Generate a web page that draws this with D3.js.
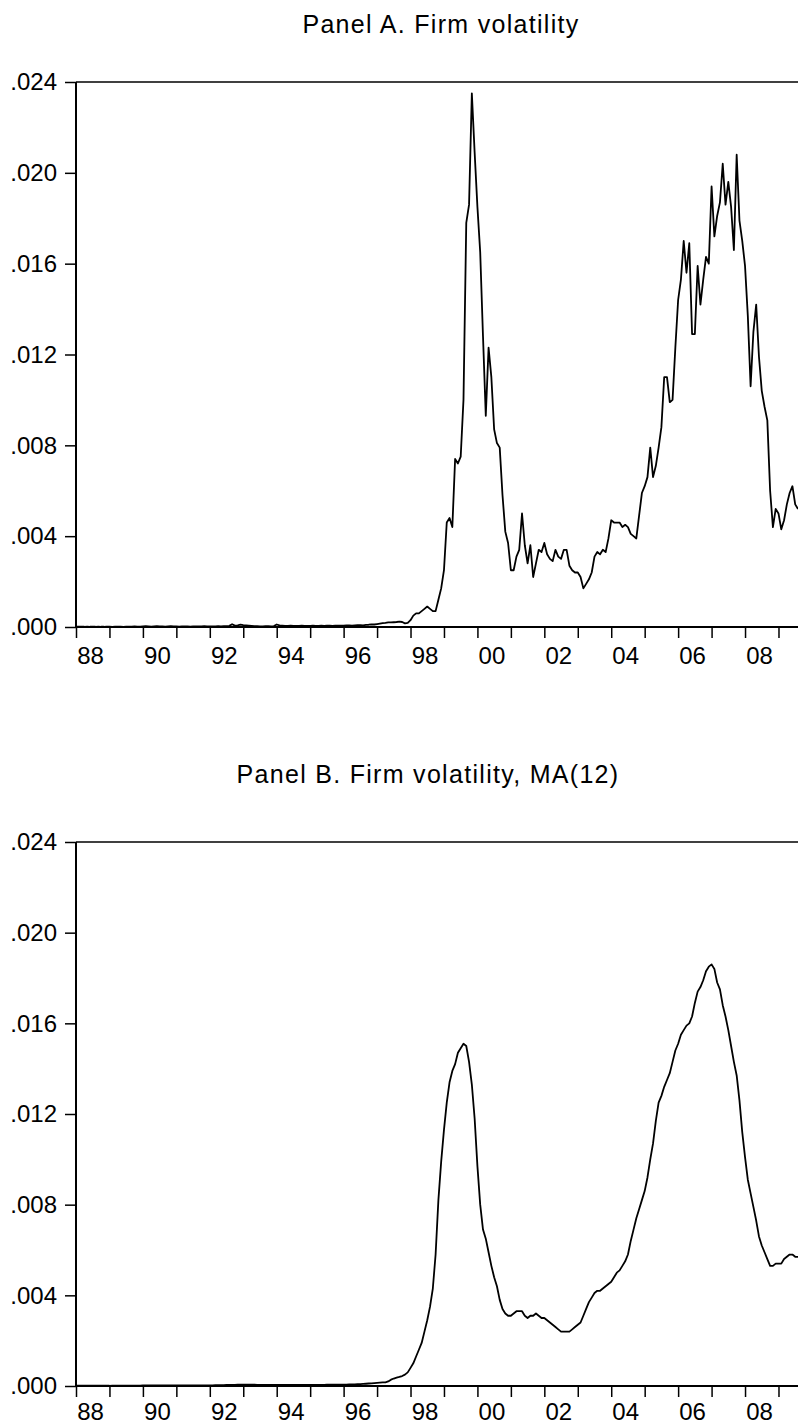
<!DOCTYPE html>
<html>
<head>
<meta charset="utf-8">
<script src="https://cdn.jsdelivr.net/npm/d3@7"></script>
<style>
  html, body { margin: 0; padding: 0; background: #fff; }
  svg { display: block; }
  text { font-family: "Liberation Sans", Arial, sans-serif; fill: #000; }
</style>
</head>
<body>
<svg id="chart" width="798" height="1426"></svg>
<script>
// ---------------- DATA (monthly, starting 1988:01) ----------------
const startYear = 1988;
const yearTicks = d3.range(1988, 2010);            // tick at start of each year
const yearLabels = ["88","90","92","94","96","98","00","02","04","06","08"];
const yTickValues = [0, 0.004, 0.008, 0.012, 0.016, 0.020, 0.024];

const titleA = "Panel A. Firm volatility";
const titleB = "Panel B. Firm volatility, MA(12)";

// Panel A: firm volatility, monthly
const volA_1988_1992 = [
  .00001,.00001,.00001,.00001,.00002,.00001,.00001,.00001,.00002,.00001,.00001,.00002,
  .00002,.00001,.00002,.00002,.00002,.00001,.00002,.00002,.00002,.00003,.00002,.00002,
  .00003,.00004,.00003,.00002,.00003,.00004,.00003,.00003,.00002,.00003,.00004,.00003,
  .00003,.00002,.00003,.00003,.00003,.00002,.00003,.00003,.00003,.00003,.00004,.00003,
  .00003,.00003,.00003,.00004,.00003,.00004,.00004,.00005,.00012,.00006,.00007,.00010
];
const volA_1993_1997 = [
  .00008,.00007,.00006,.00005,.00004,.00004,.00003,.00003,.00004,.00004,.00003,.00004,
  .00011,.00007,.00006,.00005,.00005,.00006,.00005,.00005,.00005,.00006,.00005,.00005,
  .00005,.00006,.00005,.00005,.00006,.00005,.00006,.00006,.00005,.00006,.00006,.00006,
  .00006,.00007,.00007,.00006,.00007,.00008,.00008,.00007,.00009,.00010,.00012,.00011,
  .00013,.00015,.00017,.00018,.00020,.00020,.00021,.00022,.00024,.00022,.00016,.00018
];
const volA_1998_2002 = [
  .00030,.00050,.00060,.00060,.00070,.00080,.00090,.00080,.00070,.00070,.00120,.00170,
  .00250,.00460,.00480,.00440,.00740,.00720,.00750,.01000,.01780,.01860,.02350,.02090,
  .01850,.01650,.01280,.00930,.01230,.01100,.00870,.00810,.00790,.00580,.00420,.00370,
  .00250,.00250,.00310,.00340,.00500,.00360,.00280,.00360,.00220,.00280,.00340,.00330,
  .00370,.00320,.00300,.00290,.00340,.00310,.00300,.00340,.00340,.00270,.00250,.00240
];
const volA_2003_2009 = [
  .00240,.00220,.00170,.00190,.00210,.00240,.00310,.00330,.00320,.00340,.00330,.00390,
  .00470,.00460,.00460,.00460,.00440,.00450,.00440,.00410,.00400,.00390,.00490,.00590,
  .00620,.00660,.00790,.00660,.00710,.00790,.00880,.01100,.01100,.00990,.01000,.01230,
  .01440,.01530,.01700,.01560,.01690,.01290,.01290,.01590,.01420,.01530,.01630,.01600,
  .01940,.01720,.01810,.01870,.02040,.01860,.01960,.01850,.01660,.02080,.01790,.01700,
  .01590,.01370,.01060,.01300,.01420,.01190,.01040,.00970,.00910,.00600,.00440,.00520,
  .00500,.00430,.00470,.00540,.00590,.00620,.00540,.00520
];

// Panel B: firm volatility, 12-month moving average, monthly
const volB_1988_1992 = [
  .00001,.00001,.00001,.00001,.00001,.00001,.00001,.00001,.00001,.00001,.00001,.00001,
  .00001,.00002,.00002,.00002,.00002,.00002,.00002,.00002,.00002,.00002,.00002,.00002,
  .00003,.00003,.00003,.00003,.00003,.00003,.00003,.00003,.00003,.00003,.00003,.00003,
  .00003,.00003,.00003,.00003,.00003,.00003,.00003,.00003,.00003,.00003,.00003,.00003,
  .00003,.00003,.00004,.00004,.00004,.00004,.00005,.00005,.00005,.00005,.00006,.00006
];
const volB_1993_1997 = [
  .00006,.00006,.00006,.00006,.00006,.00005,.00005,.00005,.00005,.00005,.00005,.00005,
  .00005,.00005,.00005,.00005,.00005,.00005,.00005,.00005,.00005,.00005,.00005,.00005,
  .00005,.00005,.00005,.00005,.00005,.00005,.00006,.00006,.00006,.00006,.00006,.00006,
  .00006,.00006,.00007,.00007,.00007,.00008,.00008,.00009,.00010,.00011,.00012,.00013,
  .00014,.00015,.00016,.00016,.00020,.00028,.00033,.00037,.00040,.00044,.00050,.00060
];
const volB_1998_2002 = [
  .00080,.00100,.00130,.00160,.00190,.00240,.00290,.00350,.00430,.00580,.00820,.00990,
  .01130,.01250,.01340,.01390,.01420,.01470,.01490,.01510,.01500,.01430,.01330,.01180,
  .00970,.00800,.00690,.00650,.00590,.00530,.00480,.00440,.00380,.00340,.00320,.00310,
  .00310,.00320,.00330,.00330,.00330,.00310,.00300,.00310,.00310,.00320,.00310,.00300,
  .00300,.00290,.00280,.00270,.00260,.00250,.00240,.00240,.00240,.00240,.00250,.00260
];
const volB_2003_2009 = [
  .00270,.00280,.00310,.00340,.00370,.00390,.00410,.00420,.00420,.00430,.00440,.00450,
  .00460,.00480,.00500,.00510,.00530,.00550,.00580,.00640,.00690,.00740,.00780,.00820,
  .00860,.00920,.01000,.01070,.01170,.01250,.01280,.01320,.01350,.01380,.01430,.01480,
  .01510,.01550,.01570,.01590,.01600,.01630,.01690,.01740,.01760,.01790,.01830,.01850,
  .01860,.01840,.01780,.01750,.01680,.01630,.01570,.01500,.01430,.01370,.01260,.01120,
  .01010,.00910,.00850,.00790,.00730,.00660,.00620,.00590,.00560,.00530,.00530,.00540,
  .00540,.00540,.00560,.00570,.00580,.00580,.00570,.00570
];

const seriesA = [].concat(volA_1988_1992, volA_1993_1997, volA_1998_2002, volA_2003_2009);
const seriesB = [].concat(volB_1988_1992, volB_1993_1997, volB_1998_2002, volB_2003_2009);

// ---------------- DRAWING ----------------
const svg = d3.select("#chart");
const left = 76, right = 798;

const x = d3.scaleLinear().domain([0, 259]).range([left, right]);
const fmtY = v => d3.format(".3f")(v).replace(/^0/, "");

function drawPanel(data, title, top, bottom, titleX, titleY, labelDy) {
  const y = d3.scaleLinear().domain([0, 0.024]).range([bottom, top]);
  const g = svg.append("g");

  // title
  g.append("text")
    .attr("x", titleX).attr("y", titleY)
    .attr("text-anchor", "middle")
    .style("font-size", "25px")
    .style("letter-spacing", "1.3px")
    .text(title);

  // y axis ticks + labels
  const yAxis = d3.axisLeft(y)
    .tickValues(yTickValues)
    .tickSize(11).tickSizeOuter(0).tickPadding(8)
    .tickFormat(fmtY);
  const ya = g.append("g").attr("transform", `translate(${left},0)`).call(yAxis);
  ya.select(".domain").remove();
  ya.selectAll(".tick line").attr("stroke", "#000").attr("stroke-width", 1.5);
  ya.selectAll(".tick text")
    .style("font-size", "24px")
    .style("font-family", "'Liberation Sans', Arial, sans-serif")
    .attr("fill", "#000");

  // x axis ticks (every year)
  const xAxis = d3.axisBottom(x)
    .tickValues(yearTicks.map(yr => (yr - startYear) * 12))
    .tickSize(11).tickSizeOuter(0)
    .tickFormat("");
  const xa = g.append("g").attr("transform", `translate(0,${bottom})`).call(xAxis);
  xa.select(".domain").remove();
  xa.selectAll(".tick line").attr("stroke", "#000").attr("stroke-width", 1.5);

  // x labels (even years, placed inside the year)
  g.selectAll("text.xl")
    .data(yearLabels)
    .enter().append("text")
    .attr("class", "xl")
    .attr("x", (d, i) => x(i * 24 + 5.2))
    .attr("y", bottom + labelDy)
    .attr("text-anchor", "middle")
    .style("font-size", "24px")
    .text(d => d);

  // frame lines: left, top, bottom
  g.append("line").attr("x1", left).attr("x2", left).attr("y1", top).attr("y2", bottom)
    .attr("stroke", "#000").attr("stroke-width", 2);
  g.append("line").attr("x1", left).attr("x2", right).attr("y1", top).attr("y2", top)
    .attr("stroke", "#000").attr("stroke-width", 1.5);
  g.append("line").attr("x1", left).attr("x2", right).attr("y1", bottom).attr("y2", bottom)
    .attr("stroke", "#000").attr("stroke-width", 2);

  // data line
  const line = d3.line()
    .x((d, i) => x(i))
    .y(d => y(d));
  g.append("path")
    .datum(data)
    .attr("fill", "none")
    .attr("stroke", "#000")
    .attr("stroke-width", 1.8)
    .attr("stroke-linejoin", "round")
    .attr("d", line);
}

drawPanel(seriesA, titleA, 82, 627, 441, 33, 37);
drawPanel(seriesB, titleB, 842, 1386, 428, 783, 34);
</script>
</body>
</html>
